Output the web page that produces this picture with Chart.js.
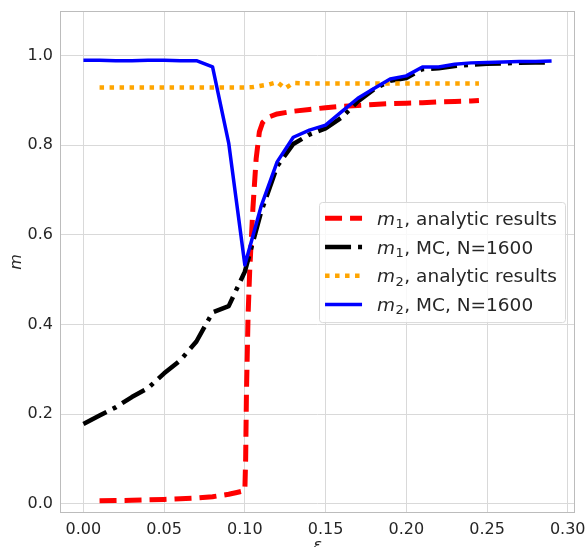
<!DOCTYPE html>
<html>
<head>
<meta charset="utf-8">
<script src="https://cdn.jsdelivr.net/npm/chart.js@4/dist/chart.umd.min.js"></script>
<style>
  html, body { margin: 0; padding: 0; background: #ffffff; }
  canvas { display: block; }
</style>
</head>
<body>
<canvas id="chart" width="587" height="547" style="width:587px;height:547px"></canvas>
<script>
// Monte Carlo grid (epsilon values) shared by both MC series
const mcEps = [0.00, 0.01, 0.02, 0.03, 0.04, 0.05, 0.06, 0.07, 0.08, 0.09,
               0.10, 0.11, 0.12, 0.13, 0.14, 0.15, 0.16, 0.17, 0.18, 0.19,
               0.20, 0.21, 0.22, 0.23, 0.24, 0.25, 0.26, 0.27, 0.28, 0.29];
const m1MC = [0.178, 0.197, 0.215, 0.238, 0.258, 0.291, 0.320, 0.362, 0.427, 0.441,
              0.518, 0.650, 0.753, 0.803, 0.824, 0.838, 0.862, 0.898, 0.925, 0.944,
              0.950, 0.970, 0.972, 0.977, 0.980, 0.982, 0.983, 0.984, 0.985, 0.985];
const m2MC = [0.990, 0.990, 0.989, 0.989, 0.990, 0.990, 0.989, 0.989, 0.975, 0.805,
              0.533, 0.663, 0.763, 0.818, 0.834, 0.845, 0.875, 0.905, 0.927, 0.948,
              0.955, 0.975, 0.975, 0.981, 0.984, 0.985, 0.986, 0.987, 0.987, 0.988];

// Analytic solution for m1 (finer sampling around the transition)
const m1Eps = [0.01, 0.02, 0.03, 0.04, 0.05, 0.06, 0.07, 0.08, 0.09, 0.095,
               0.100, 0.1005, 0.101, 0.102, 0.103, 0.105, 0.107, 0.109, 0.111, 0.114,
               0.12, 0.13, 0.14, 0.15, 0.16, 0.17, 0.18, 0.19, 0.20, 0.21,
               0.22, 0.23, 0.24, 0.245];
const m1Analytic = [0.0065, 0.007, 0.0075, 0.0085, 0.0095, 0.011, 0.0125, 0.0155, 0.021, 0.025,
                    0.029, 0.10, 0.25, 0.42, 0.52, 0.66, 0.77, 0.83, 0.851, 0.862,
                    0.870, 0.876, 0.880, 0.884, 0.887, 0.889, 0.891, 0.893, 0.894, 0.895,
                    0.897, 0.898, 0.899, 0.900];

// Analytic solution for m2
const m2Eps = [0.01, 0.02, 0.03, 0.04, 0.05, 0.06, 0.07, 0.08, 0.09, 0.10,
               0.105, 0.11, 0.115, 0.12, 0.125, 0.13, 0.14, 0.15, 0.16, 0.17,
               0.18, 0.19, 0.20, 0.21, 0.22, 0.23, 0.24, 0.245];
const m2Analytic = [0.929, 0.929, 0.929, 0.929, 0.929, 0.929, 0.929, 0.929, 0.929, 0.929,
                    0.930, 0.933, 0.936, 0.941, 0.927, 0.939, 0.938, 0.938, 0.938, 0.938,
                    0.938, 0.938, 0.938, 0.938, 0.938, 0.938, 0.938, 0.938];

// Axis ticks and limits
const xTicks = [0.00, 0.05, 0.10, 0.15, 0.20, 0.25, 0.30];
const yTicks = [0.0, 0.2, 0.4, 0.6, 0.8, 1.0];
const xLimits = [-0.0145, 0.3045];
const yLimits = [-0.0208, 1.0998];

// Legend entries: italic symbol, subscript, rest of the label
const legendSymbols = ['m', 'm', 'm', 'm'];
const legendSubs = ['1', '1', '2', '2'];
const legendTexts = [', analytic results', ', MC, N=1600', ', analytic results', ', MC, N=1600'];

const FONT = '"DejaVu Sans", "Liberation Sans", sans-serif';
const TEXT_COLOR = '#262626';

function points(xs, ys) {
  return xs.map((x, i) => ({ x: x, y: ys[i] }));
}

// Full rectangular frame around the plotting area
const framePlugin = {
  id: 'frame',
  afterDatasetsDraw(chart) {
    const { ctx, chartArea: a } = chart;
    ctx.save();
    ctx.strokeStyle = '#bcbcbc';
    ctx.lineWidth = 1;
    ctx.strokeRect(Math.round(a.left) + 0.5, Math.round(a.top) + 0.5,
                   Math.round(a.right - a.left) - 1, Math.round(a.bottom - a.top) - 1);
    ctx.restore();
  }
};

// Axis titles (italic math symbols)
const axisTitlePlugin = {
  id: 'axisTitles',
  afterDraw(chart) {
    const { ctx, chartArea: a } = chart;
    ctx.save();
    ctx.fillStyle = TEXT_COLOR;
    ctx.font = 'italic 16px ' + FONT;
    ctx.textAlign = 'center';
    ctx.textBaseline = 'middle';
    ctx.translate(17, (a.top + a.bottom) / 2);
    ctx.rotate(-Math.PI / 2);
    ctx.fillText('m', 0, 0);
    ctx.restore();

    ctx.save();
    ctx.fillStyle = TEXT_COLOR;
    ctx.font = 'italic 16px ' + FONT;
    ctx.textAlign = 'center';
    ctx.textBaseline = 'alphabetic';
    ctx.fillText('\u03B5', (a.left + a.right) / 2, a.bottom + 37);
    ctx.restore();
  }
};

// Legend box drawn inside the plotting area
const legendPlugin = {
  id: 'insideLegend',
  afterDraw(chart) {
    const { ctx, chartArea: a } = chart;
    const sets = chart.data.datasets;
    const mainFont = '18.5px ' + FONT;
    const symFont = 'italic 18.5px ' + FONT;
    const subFont = '13px ' + FONT;

    ctx.save();
    let maxW = 0;
    const widths = sets.map((ds, i) => {
      ctx.font = symFont; const w1 = ctx.measureText(legendSymbols[i]).width;
      ctx.font = subFont; const w2 = ctx.measureText(legendSubs[i]).width;
      ctx.font = mainFont; const w3 = ctx.measureText(legendTexts[i]).width;
      const w = w1 + w2 + 1 + w3;
      maxW = Math.max(maxW, w);
      return [w1, w2, w3];
    });

    const padL = 6, handle = 37, gap = 15, padR = 8;
    const boxW = padL + handle + gap + maxW + padR;
    const boxRight = a.right - 10;
    const boxLeft = boxRight - boxW;
    const boxTop = a.top + 191;
    const rowGap = 28.7;
    const firstRow = boxTop + 16.3;
    const boxH = 16.3 + rowGap * (sets.length - 1) + 17.7;

    ctx.beginPath();
    ctx.roundRect(boxLeft + 0.5, boxTop + 0.5, boxW, boxH, 3);
    ctx.fillStyle = 'rgba(255,255,255,0.8)';
    ctx.fill();
    ctx.strokeStyle = '#d9d9d9';
    ctx.lineWidth = 1;
    ctx.stroke();

    sets.forEach((ds, i) => {
      const y = firstRow + rowGap * i;
      const x0 = boxLeft + padL;
      ctx.save();
      ctx.beginPath();
      ctx.setLineDash(ds.borderDash || []);
      ctx.lineCap = ds.borderCapStyle || 'butt';
      ctx.strokeStyle = ds.borderColor;
      ctx.lineWidth = ds.borderWidth;
      ctx.moveTo(x0, y);
      ctx.lineTo(x0 + handle, y);
      ctx.stroke();
      ctx.restore();

      let tx = x0 + handle + gap;
      const base = y + 6.5;
      ctx.fillStyle = TEXT_COLOR;
      ctx.textBaseline = 'alphabetic';
      ctx.textAlign = 'left';
      ctx.font = symFont;
      ctx.fillText(legendSymbols[i], tx, base);
      tx += widths[i][0] + 0.5;
      ctx.font = subFont;
      ctx.fillText(legendSubs[i], tx, base + 3.5);
      tx += widths[i][1] + 0.5;
      ctx.font = mainFont;
      ctx.fillText(legendTexts[i], tx, base);
    });
    ctx.restore();
  }
};

const tickFont = { family: FONT, size: 16 };

new Chart(document.getElementById('chart'), {
  type: 'line',
  data: {
    datasets: [
      {
        label: 'm1, analytic results',
        data: points(m1Eps, m1Analytic),
        borderColor: '#ff0000',
        borderWidth: 5,
        borderDash: [17, 8],
        borderCapStyle: 'butt',
        order: 4
      },
      {
        label: 'm1, MC, N=1600',
        data: points(mcEps, m1MC),
        borderColor: '#000000',
        borderWidth: 4.5,
        borderDash: [26, 7, 4, 7],
        borderCapStyle: 'butt',
        order: 3
      },
      {
        label: 'm2, analytic results',
        data: points(m2Eps, m2Analytic),
        borderColor: '#ffa500',
        borderWidth: 4.5,
        borderDash: [4.5, 5.5],
        borderCapStyle: 'butt',
        order: 2
      },
      {
        label: 'm2, MC, N=1600',
        data: points(mcEps, m2MC),
        borderColor: '#0000ff',
        borderWidth: 3.5,
        borderCapStyle: 'butt',
        order: 1
      }
    ]
  },
  options: {
    responsive: false,
    devicePixelRatio: 1,
    animation: false,
    elements: {
      point: { radius: 0, hoverRadius: 0 },
      line: { tension: 0, fill: false, borderJoinStyle: 'round' }
    },
    layout: { padding: { top: 11, right: 12, left: 0, bottom: 0 } },
    plugins: {
      legend: { display: false },
      tooltip: { enabled: false }
    },
    scales: {
      x: {
        type: 'linear',
        min: xLimits[0],
        max: xLimits[1],
        afterBuildTicks(scale) { scale.ticks = xTicks.map(v => ({ value: v })); },
        afterFit(scale) {
          scale.height = 34;
          scale.paddingLeft = 0;
          scale.paddingRight = 0;
        },
        ticks: {
          font: tickFont,
          color: TEXT_COLOR,
          padding: 7,
          maxRotation: 0,
          autoSkip: false,
          callback: v => Number(v).toFixed(2)
        },
        grid: { color: '#d9d9d9', lineWidth: 1, drawTicks: false },
        border: { display: false }
      },
      y: {
        type: 'linear',
        min: yLimits[0],
        max: yLimits[1],
        afterBuildTicks(scale) { scale.ticks = yTicks.map(v => ({ value: v })); },
        afterFit(scale) {
          scale.width = 60;
          scale.paddingTop = 0;
          scale.paddingBottom = 0;
        },
        ticks: {
          font: tickFont,
          color: TEXT_COLOR,
          padding: 7,
          autoSkip: false,
          callback: v => Number(v).toFixed(1)
        },
        grid: { color: '#d9d9d9', lineWidth: 1, drawTicks: false },
        border: { display: false }
      }
    }
  },
  plugins: [framePlugin, axisTitlePlugin, legendPlugin]
});
</script>
</body>
</html>
